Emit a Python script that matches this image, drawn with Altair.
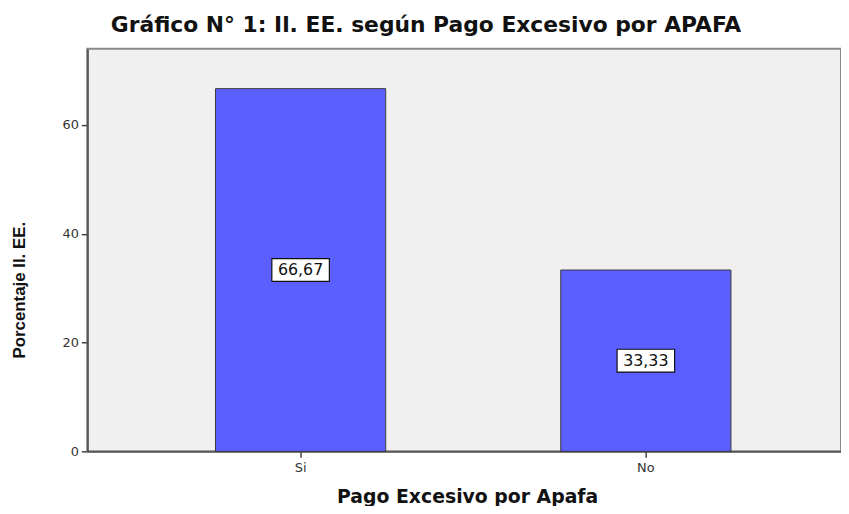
import altair as alt
import pandas as pd

categories = ["Si", "No"]
values = [66.67, 33.33]
labels = ["66,67", "33,33"]
y_ticks = [0, 20, 40, 60]

df = pd.DataFrame({"cat": categories, "val": values, "lab": labels})

FONT = "DejaVu Sans"

x_enc = alt.X(
    "cat:N",
    sort=categories,
    scale=alt.Scale(paddingInner=0.507, paddingOuter=0.345, align=0.538),
    axis=alt.Axis(
        title="Pago Excesivo por Apafa",
        labelAngle=0,
        labelFont=FONT,
        labelFontSize=13,
        labelColor="#333333",
        labelPadding=4,
        tickColor="#444444",
        tickSize=6,
        tickWidth=1.5,
        domainColor="#555555",
        domainWidth=2,
        titleFont=FONT,
        titleFontSize=19,
        titleFontWeight="bold",
        titleColor="#111111",
        titleX=383,
        titleY=52,
        titleBaseline="alphabetic",
        titleAlign="center",
    ),
)

y_scale = alt.Scale(domain=[0, 74], nice=False)

bars = alt.Chart(df).mark_bar(
    color="#5B5FFF", stroke="#3A3A3A", strokeWidth=1
).encode(
    x=x_enc,
    y=alt.Y(
        "val:Q",
        scale=y_scale,
        axis=alt.Axis(
            title="Porcentaje Il. EE.",
            values=y_ticks,
            grid=False,
            labelFont=FONT,
            labelFontSize=13,
            labelColor="#333333",
            labelPadding=3,
            tickColor="#444444",
            tickSize=6,
            tickWidth=1.5,
            domainColor="#555555",
            domainWidth=2,
            titleFont="Liberation Sans",
            titleFontSize=17,
            titleFontWeight="bold",
            titleColor="#111111",
            titleX=-68,
            titleY=243,
            titleAngle=270,
            titleBaseline="middle",
            titleAlign="center",
        ),
    ),
)

boxes = alt.Chart(df).transform_calculate(
    lo="datum.val / 2 - 2.1", hi="datum.val / 2 + 2.1"
).mark_bar(
    width=58, fill="white", stroke="#111111", strokeWidth=1.2
).encode(
    x=alt.X("cat:N", sort=categories),
    y=alt.Y("lo:Q", scale=y_scale),
    y2="hi:Q",
)

texts = alt.Chart(df).transform_calculate(
    mid="datum.val / 2"
).mark_text(
    font=FONT, fontSize=16, color="#111111", baseline="middle", align="center"
).encode(
    x=alt.X("cat:N", sort=categories),
    y=alt.Y("mid:Q", scale=y_scale),
    text="lab:N",
)

chart = alt.layer(bars, boxes, texts).properties(
    width=760,
    height=406,
    padding={"left": 80, "top": 39, "right": 0, "bottom": 53},
    autosize=alt.AutoSizeParams(type="none"),
    title=alt.TitleParams(
        "Gráfico N° 1: Il. EE. según Pago Excesivo por APAFA",
        font=FONT,
        fontSize=22,
        fontWeight="bold",
        color="#111111",
        anchor="middle",
        frame="bounds",
        baseline="alphabetic",
        offset=16,
        dy=21,
    ),
).configure_view(
    fill="#F0F0F0", stroke="#8A8A8A", strokeWidth=2
)

chart.save("out.html", embed_options={"renderer": "svg", "actions": False})
